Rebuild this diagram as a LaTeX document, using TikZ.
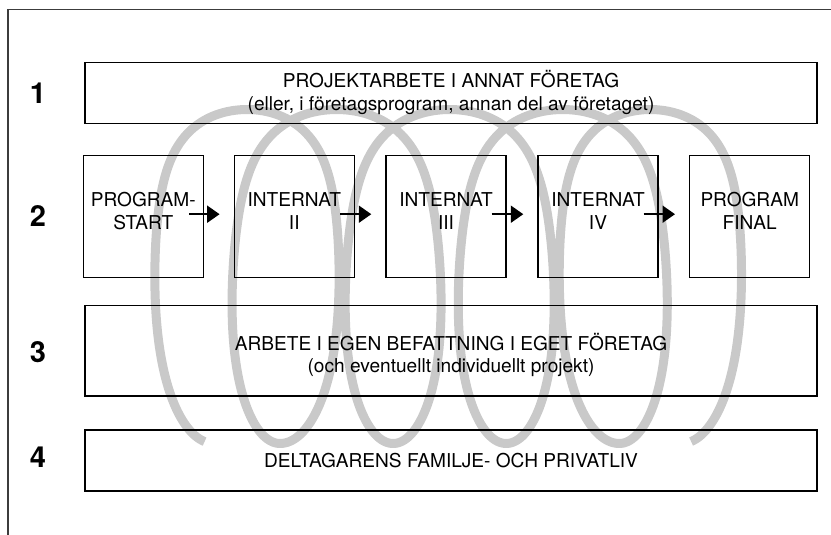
\documentclass[tikz,border=0pt]{standalone}
\usepackage{fontspec}
\setmainfont{TeX Gyre Heros}
\usetikzlibrary{arrows.meta,calc}
\definecolor{coilgray}{RGB}{201,201,201}
\definecolor{framegray}{RGB}{60,60,60}
\tikzset{
  box/.style={draw=black, line width=1.4pt, inner sep=0pt},
  txt/.style={font=\fontsize{19.1}{22.8}\selectfont, align=center, inner sep=0pt},
  num/.style={font=\fontsize{29}{29}\selectfont\bfseries, inner sep=0pt},
  coil/.style={draw=coilgray, line width=9pt, line cap=butt, line join=round},
  arr/.style={line width=2pt, -{Triangle[length=12.5pt,width=17pt]}},
  frameline/.style={draw=framegray, line width=1.3pt}
}
\begin{document}
\begin{tikzpicture}[x=1pt,y=-1pt]
\useasboundingbox (0,0) rectangle (831,535);
% frame
\coordinate (ftl) at (8,9.5);
\coordinate (ftr) at (831,9.5);
\coordinate (fbl) at (8,535);
\draw[frameline] (fbl) -- (ftl) -- (ftr);
% coil
\draw[coil] plot[domain=-1.4208:29.695, samples=900, variable=\t]
  ({195.2+18*\t-(73+42*((1+sin(\t r))/2)^4)*cos(\t r)+47*max(0,min(1,(4.712389-\t)/6.283185))-51*max(0,min(1,(\t-23.561945)/6.283185))},
   {276.5-167*sin(\t r)});
% boxes
\node[box, minimum width=732pt, minimum height=61pt] (b1) at (451,92.8) {};
\node[box, minimum width=120pt, minimum height=122pt] (p1) at (143.3,216.2) {};
\node[box, minimum width=120pt, minimum height=122pt] (p2) at (294.3,216.2) {};
\node[box, minimum width=120pt, minimum height=122pt] (p3) at (446,216.2) {};
\node[box, minimum width=120pt, minimum height=122pt] (p4) at (598,216.2) {};
\node[box, minimum width=120pt, minimum height=122pt] (p5) at (749.7,216.2) {};
\node[box, minimum width=732pt, minimum height=90.3pt] (b3) at (451,350.9) {};
\node[box, minimum width=732pt, minimum height=61pt] (b4) at (451,460.6) {};
% texts
\node[txt] (t1) at (451,92.5) {PROJEKTARBETE I ANNAT FÖRETAG\\(eller, i företagsprogram, annan del av företaget)};
\node[txt] (tp1) at (143.3,211) {PROGRAM-\\START};
\node[txt] (tp2) at (294.3,211) {INTERNAT\\II};
\node[txt] (tp3) at (446,211) {INTERNAT\\III};
\node[txt] (tp4) at (598,211) {INTERNAT\\IV};
\node[txt] (tp5) at (749.7,211) {PROGRAM\\FINAL};
\node[txt] (t3) at (451,355) {ARBETE I EGEN BEFATTNING I EGET FÖRETAG\\(och eventuellt individuellt projekt)};
\node[txt] (t4) at (451,460.5) {DELTAGARENS FAMILJE- OCH PRIVATLIV};
% numbers
\node[num] (n1) at (38,93) {1};
\node[num] (n2) at (38,216) {2};
\node[num] (n3) at (38,352) {3};
\node[num] (n4) at (38,457) {4};
% arrows
\draw[arr] ($(p1.east)+(-15,-2)$) -- ($(p2.west)+(-14,-2)$);
\draw[arr] ($(p2.east)+(-15,-2)$) -- ($(p3.west)+(-14,-2)$);
\draw[arr] ($(p3.east)+(-15,-2)$) -- ($(p4.west)+(-14,-2)$);
\draw[arr] ($(p4.east)+(-15,-2)$) -- ($(p5.west)+(-14,-2)$);
\end{tikzpicture}
\end{document}
